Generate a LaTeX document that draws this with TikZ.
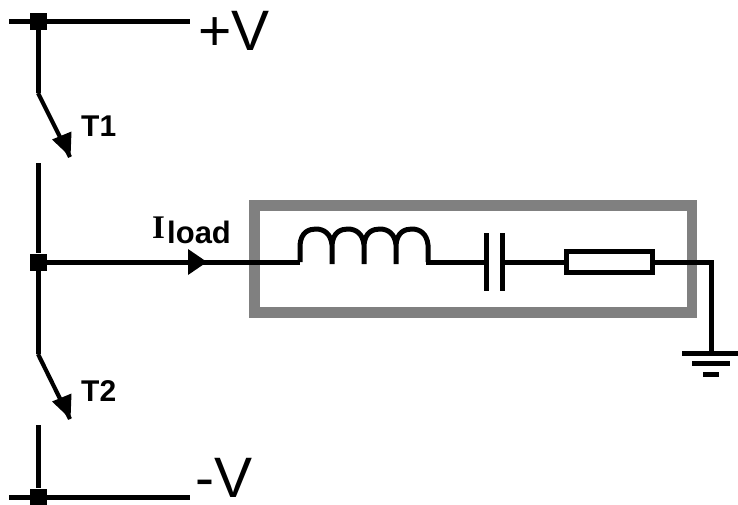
\documentclass[tikz,border=0pt]{standalone}
\usepackage{fontspec}
\setmainfont{Liberation Sans}
\newfontfamily\serifI{Liberation Serif}
\tikzset{
  wire/.style={line width=5pt,black,line cap=butt,line join=miter},
  thinwire/.style={line width=4.2pt,black},
  junction/.style={fill=black,draw=none,minimum size=17pt,inner sep=0pt,rectangle},
  graybox/.style={draw=black!50,line width=10.4pt,fill=none},
  lab/.style={inner sep=0pt,anchor=base west,text=black},
  big/.style={lab,font=\fontsize{57}{57}\selectfont},
  swl/.style={lab,font=\bfseries\fontsize{30}{30}\selectfont}
}
\begin{document}
\begin{tikzpicture}[x=1pt,y=-1pt]
\useasboundingbox (0,0) rectangle (738,504);
% box first, wires on top
\coordinate (bnw) at (254.5,205.5);
\coordinate (bse) at (692,312.5);
\draw[graybox] (bnw) rectangle (bse);
% nodes
\node[junction] (top) at (38,21.5) {};
\node[junction] (mid) at (38,262) {};
\node[junction] (bot) at (38,497) {};
\coordinate (topl) at (9,21.5);
\coordinate (topr) at (190,21.5);
\coordinate (botl) at (9,497);
\coordinate (botr) at (190,497);
\coordinate (t1a) at (38,93);
\coordinate (t1b) at (70,157);
\coordinate (t1c) at (38,163);
\coordinate (t2a) at (38,354);
\coordinate (t2b) at (70,419);
\coordinate (t2c) at (38,425);
\coordinate (lin) at (300,262);
\coordinate (lout) at (428,262);
\coordinate (c1) at (486.5,262);
\coordinate (c2) at (502.5,262);
\coordinate (rin) at (565,262);
\coordinate (rout) at (654,262);
\coordinate (gc) at (711,262);
\coordinate (gnd) at (711,352.5);
% rails
\draw[wire] (topl) -- (topr);
\draw[wire] (botl) -- (botr);
\draw[wire] (top) -- (t1a);
\draw[thinwire] (t1a) -- (t1b);
\draw[wire] (t1c) -- (mid) -- (t2a);
\draw[thinwire] (t2a) -- (t2b);
\draw[wire] (t2c) -- (bot);
% switch arrowheads
\fill (70.5,157) -- (71.5,131.5) -- (52,139.5) -- cycle;
\fill (70.5,419) -- (71.5,393.5) -- (52,401.5) -- cycle;
% load wire and arrow
\draw[wire] (mid) -- (lin);
\fill (207,262) -- (188,249) -- (188,275) -- cycle;
% inductor
\draw[wire,line join=round] (lin) -- (300,245)
  .. controls (301,232) and (309,229) .. (316,229)
  .. controls (324,229) and (331,234) .. (332,245) -- (332,264)
  (332,245) .. controls (333,232) and (341,229) .. (348,229)
  .. controls (356,229) and (363,234) .. (364,245) -- (364,264)
  (364,245) .. controls (365,232) and (373,229) .. (380,229)
  .. controls (388,229) and (395,234) .. (396,245) -- (396,264)
  (396,245) .. controls (397,232) and (405,229) .. (412,229)
  .. controls (420,229) and (427,234) .. (428,245) -- (lout);
\draw[wire] (298,262) -- (lin);
\draw[wire] (426,262) -- (c1);
% capacitor
\draw[wire] (486.5,233) -- (486.5,291);
\draw[wire] (502.5,233) -- (502.5,291);
\draw[wire] (c2) -- (rin);
% resistor
\draw[wire] (566.5,251.5) rectangle (652.5,272.5);
% ground
\draw[wire] (rout) -- (gc) -- (gnd);
\draw[wire] (682,353) -- (738,353);
\draw[wire] (692,363.5) -- (730,363.5);
\draw[wire] (703,374) -- (719,374);
% labels
\node[big] (pv) at (198,50) {+V};
\node[big] (mv) at (195,497) {-V};
\node[swl] (t1) at (81,136) {T1};
\node[swl] (t2) at (81,401) {T2};
\node[lab,font=\serifI\bfseries\fontsize{33}{33}\selectfont] (ii) at (152,238) {I};
\node[lab,font=\bfseries\fontsize{31}{31}\selectfont] (il) at (167,243) {load};
\end{tikzpicture}
\end{document}
